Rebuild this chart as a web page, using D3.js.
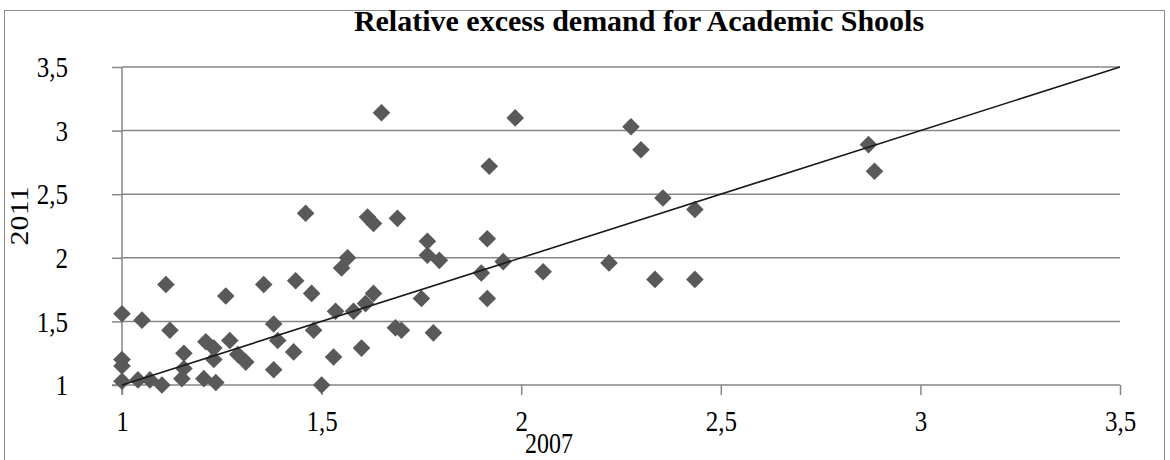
<!DOCTYPE html>
<html>
<head>
<meta charset="utf-8">
<script src="https://cdn.jsdelivr.net/npm/d3@7/dist/d3.min.js"></script>
<style>
  html, body { margin: 0; padding: 0; background: #fff; }
  svg { display: block; font-family: "Liberation Serif", "Times New Roman", serif; }
</style>
</head>
<body>
<svg id="chart" width="1170" height="460"></svg>
<script>
// School-level relative excess demand, 2007 vs 2011
const demand2007 = [
  1.00, 1.00, 1.00, 1.00, 1.04, 1.05, 1.07, 1.10, 1.11, 1.12,
  1.155, 1.155, 1.15, 1.21, 1.23, 1.23, 1.205, 1.235, 1.26, 1.27,
  1.29, 1.31, 1.355, 1.38, 1.39, 1.38, 1.43, 1.435, 1.46, 1.475,
  1.48, 1.50, 1.53, 1.535, 1.55, 1.565, 1.58, 1.60, 1.61, 1.615,
  1.63, 1.63, 1.65, 1.685, 1.69, 1.70, 1.75, 1.765, 1.765, 1.78,
  1.795, 1.90, 1.915, 1.915, 1.92, 1.955, 1.985, 2.055, 2.22, 2.275,
  2.30, 2.335, 2.355, 2.435, 2.435, 2.87, 2.885
];
const demand2011 = [
  1.56, 1.20, 1.15, 1.03, 1.04, 1.51, 1.04, 1.00, 1.79, 1.43,
  1.25, 1.13, 1.05, 1.34, 1.29, 1.20, 1.05, 1.02, 1.70, 1.35,
  1.24, 1.18, 1.79, 1.48, 1.35, 1.12, 1.26, 1.82, 2.35, 1.72,
  1.43, 1.00, 1.22, 1.58, 1.92, 2.00, 1.58, 1.29, 1.64, 2.32,
  2.27, 1.72, 3.14, 1.45, 2.31, 1.43, 1.68, 2.13, 2.02, 1.41,
  1.98, 1.88, 2.15, 1.68, 2.72, 1.97, 3.10, 1.89, 1.96, 3.03,
  2.85, 1.83, 2.47, 2.38, 1.83, 2.89, 2.68
];
// Reference line of equal demand in both years
const equalLine = [1, 3.5];
const xTicks = [1, 1.5, 2, 2.5, 3, 3.5];
const yTicks = [1, 1.5, 2, 2.5, 3, 3.5];

const title = "Relative excess demand for Academic Shools";
const xTitle = "2007";
const yTitle = "2011";

const points = demand2007.map((v, i) => ({ x: v, y: demand2011[i] }));
const fmt = d => String(d).replace(".", ",");

const svg = d3.select("#chart");
const margin = { left: 122, right: 50, top: 67, bottom: 75 };
const W = 1170, H = 460;
const stretch = 1.2;   // tall serif lettering for axis text

const x = d3.scaleLinear().domain([1, 3.5]).range([margin.left, W - margin.right]);
const y = d3.scaleLinear().domain([1, 3.5]).range([H - margin.bottom, margin.top]);

const gridColor = "#868686";

// outer frame
svg.append("rect")
  .attr("x", 4.5).attr("y", 10.5)
  .attr("width", 1160).attr("height", 470)
  .attr("fill", "none").attr("stroke", "#8c8c8c").attr("stroke-width", 1);

// horizontal gridlines
svg.append("g")
  .selectAll("line")
  .data(yTicks.filter(d => d > 1))
  .join("line")
  .attr("x1", x(1)).attr("x2", x(3.5))
  .attr("y1", d => y(d)).attr("y2", d => y(d))
  .attr("stroke", gridColor).attr("stroke-width", 1.5);

// axes
const yAxis = svg.append("g")
  .attr("transform", `translate(${x(1)},0)`)
  .call(d3.axisLeft(y).tickValues(yTicks).tickFormat(fmt).tickSize(10).tickPadding(44));
const xAxis = svg.append("g")
  .attr("transform", `translate(0,${y(1)})`)
  .call(d3.axisBottom(x).tickValues(xTicks).tickFormat(fmt).tickSize(10).tickPadding(0));

[yAxis, xAxis].forEach(g => {
  g.select(".domain").remove();
  g.selectAll(".tick line").attr("stroke", gridColor).attr("stroke-width", 1.5);
  g.selectAll(".tick text")
    .attr("fill", "#000")
    .style("font-family", '"Liberation Serif", "Times New Roman", serif')
    .style("font-size", "25px");
});
yAxis.selectAll(".tick text").attr("transform", `scale(1,${stretch})`);
xAxis.selectAll(".tick text")
  .attr("y", 0).attr("dy", null)
  .attr("transform", `translate(0,${431 - y(1)}) scale(1,${stretch})`);

// axis lines
svg.append("line")
  .attr("x1", x(1)).attr("x2", x(1))
  .attr("y1", y(3.5)).attr("y2", y(1) + 10)
  .attr("stroke", gridColor).attr("stroke-width", 1.5);
svg.append("line")
  .attr("x1", x(1) - 10).attr("x2", x(3.5))
  .attr("y1", y(1)).attr("y2", y(1))
  .attr("stroke", gridColor).attr("stroke-width", 1.5);

// markers
const diamond = d3.symbol().type(d3.symbolSquare).size(155);
svg.append("g")
  .selectAll("path")
  .data(points)
  .join("path")
  .attr("d", diamond)
  .attr("transform", d => `translate(${x(d.x)},${y(d.y)}) rotate(45)`)
  .attr("fill", "#595959");

// equal-demand line
svg.append("path")
  .datum(equalLine)
  .attr("d", d3.line().x(d => x(d)).y(d => y(d)))
  .attr("fill", "none").attr("stroke", "#1a1a1a").attr("stroke-width", 1.6);

// titles
svg.append("text")
  .attr("x", 639).attr("y", 31)
  .attr("text-anchor", "middle")
  .style("font-weight", "bold").style("font-size", "30px")
  .text(title);

svg.append("text")
  .attr("transform", `translate(549,453) scale(1,${stretch})`)
  .attr("text-anchor", "middle")
  .style("font-size", "24px")
  .text(xTitle);

svg.append("text")
  .attr("transform", `translate(28,216) rotate(-90) scale(${stretch},1)`)
  .attr("text-anchor", "middle")
  .style("font-size", "25px")
  .text(yTitle);
</script>
</body>
</html>
